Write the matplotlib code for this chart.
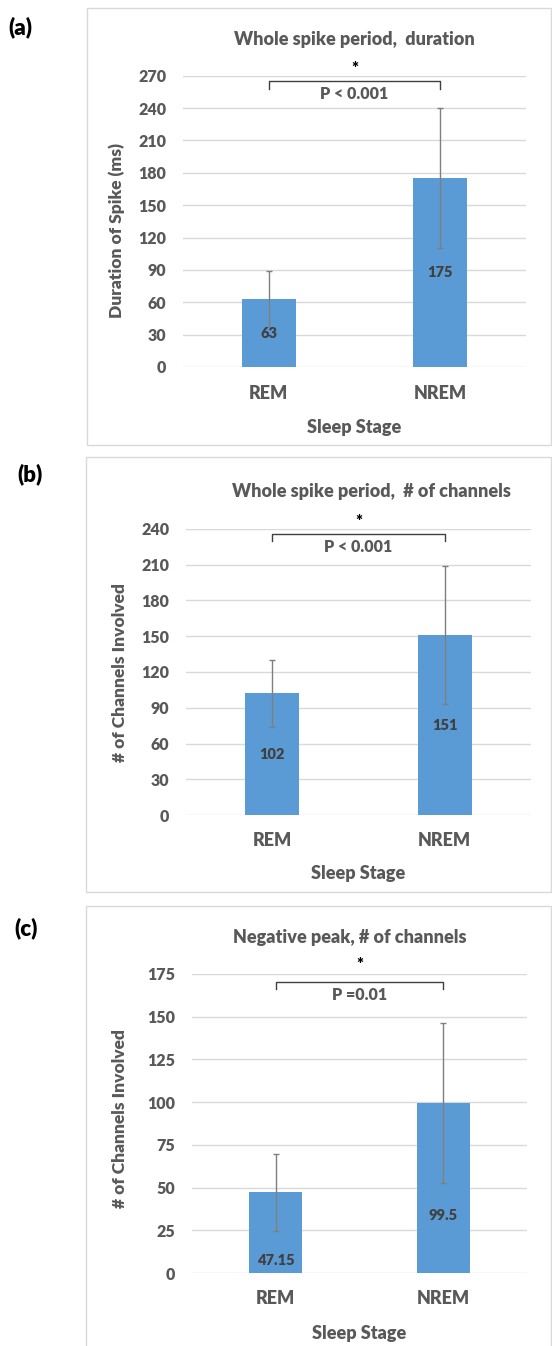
import matplotlib.pyplot as plt
from matplotlib.patches import Rectangle

plt.rcParams['font.family'] = ['Lato', 'DejaVu Sans']
plt.rcParams['font.weight'] = 'heavy'
WT = 'heavy'

W, H = 552, 1346
TXT = '#595959'
BAR = '#5B9BD5'
GRID = '#D9D9D9'

stages = ['REM', 'NREM']

# panel (a): duration of whole spike period
dur_mean = [63, 175]
dur_err = [26, 65]
dur_ticks = [0, 30, 60, 90, 120, 150, 180, 210, 240, 270]

# panel (b): channels over whole spike period
chan_mean = [102, 151]
chan_err = [28, 58]
chan_ticks = [0, 30, 60, 90, 120, 150, 180, 210, 240]

# panel (c): channels at negative peak
neg_mean = [47.15, 99.5]
neg_err = [22.7, 46.7]
neg_ticks = [0, 25, 50, 75, 100, 125, 150, 175]

panels = [
    dict(tag='(a)', title='Whole spike period,  duration', ylabel='Duration of Spike (ms)',
         mean=dur_mean, err=dur_err, ticks=dur_ticks, p='P < 0.001',
         box=(183, 75.7, 526, 367), frame=(87, 8, 551, 445), tag_xy=(20, 27),
         title_xy=(354, 40), bracket=(265.5, 258), star=276, ptxt=253, xtick_y=393,
         xlab_y=427, ylab_xy=(117, 230), lab_shift=0),
    dict(tag='(b)', title='Whole spike period,  # of channels', ylabel='# of Channels Involved',
         mean=chan_mean, err=chan_err, ticks=chan_ticks, p='P < 0.001',
         box=(186, 529, 531, 815), frame=(86, 457, 551, 892), tag_xy=(30, 474),
         title_xy=(371, 492), bracket=(235.8, 230), star=246, ptxt=225, xtick_y=840,
         xlab_y=873, ylab_xy=(120, 673), lab_shift=0),
    dict(tag='(c)', title='Negative peak, # of channels', ylabel='# of Channels Involved',
         mean=neg_mean, err=neg_err, ticks=neg_ticks, p='P =0.01',
         box=(192, 974, 527, 1273), frame=(86, 906, 551, 1360), tag_xy=(26, 928),
         title_xy=(350, 937), bracket=(170.3, 166), star=180.5, ptxt=163, xtick_y=1299,
         xlab_y=1333, ylab_xy=(120, 1119), lab_shift=-20),
]

fig = plt.figure(figsize=(W / 100, H / 100), dpi=100)


def fx(px):
    return px / W


def fy(py):
    return 1 - py / H


for pn in panels:
    fl, ft, fr, fb = pn['frame']
    fig.patches.append(Rectangle((fx(fl), fy(fb)), fx(fr - fl), (fb - ft) / H,
                                 transform=fig.transFigure, fill=False,
                                 edgecolor=GRID, linewidth=1.0))
    fig.text(fx(pn['tag_xy'][0]), fy(pn['tag_xy'][1]), pn['tag'], ha='center', va='center',
             fontsize=16, color='black', fontweight=WT)

    l, t, r, b = pn['box']
    ax = fig.add_axes([fx(l), fy(b), fx(r - l), (b - t) / H])
    x = [0, 1]
    ax.bar(x, pn['mean'], width=0.315, color=BAR, zorder=2)
    ax.errorbar(x, pn['mean'], yerr=pn['err'], fmt='none', ecolor='#7F7F7F',
                elinewidth=1.0, capsize=2.5, capthick=1.0, zorder=3)
    for xi, m in zip(x, pn['mean']):
        ax.annotate(f'{m:g}', (xi, m / 2), xytext=(0, pn['lab_shift']), textcoords='offset points',
                    ha='center', va='center', fontsize=10.5, color='#404040', fontweight=WT,
                    zorder=4)

    ax.set_xlim(-0.5, 1.5)
    ax.set_ylim(0, pn['ticks'][-1])
    ax.set_yticks(pn['ticks'])
    ax.set_yticklabels([str(v) for v in pn['ticks']], fontweight=WT)
    ax.yaxis.grid(True, color=GRID, linewidth=1.0, zorder=0)
    ax.set_axisbelow(True)
    for s in ax.spines.values():
        s.set_visible(False)
    ax.tick_params(axis='y', length=0, pad=12, labelsize=11.5, labelcolor=TXT)
    ax.set_xticks([])

    for xi, name in zip(x, stages):
        fig.text(fx(l + (r - l) * (0.25 + 0.5 * xi)), fy(pn['xtick_y']), name, ha='center',
                 va='center', fontsize=13, color=TXT, fontweight=WT)
    fig.text(fx((l + r) / 2), fy(pn['xlab_y']), 'Sleep Stage', ha='center', va='center',
             fontsize=13, color=TXT, fontweight=WT)
    fig.text(fx(pn['ylab_xy'][0]), fy(pn['ylab_xy'][1]), pn['ylabel'], ha='center', va='center',
             rotation=90, fontsize=12.5, color=TXT, fontweight=WT)
    fig.text(fx(pn['title_xy'][0]), fy(pn['title_xy'][1]), pn['title'], ha='center', va='center',
             fontsize=13, color=TXT, fontweight=WT)

    # significance bracket between the two bars
    top, foot = pn['bracket']
    ax.plot([0, 0, 1, 1], [foot, top, top, foot], color='#404040', linewidth=1.0,
            clip_on=False, zorder=5)
    ax.text(0.5, pn['star'], '*', ha='center', va='center', fontsize=12, color='black',
            fontweight=WT, clip_on=False)
    ax.text(0.5, pn['ptxt'], pn['p'], ha='center', va='center', fontsize=11.5, color=TXT,
            fontweight=WT, clip_on=False)

fig.savefig('out.png', dpi=100)
